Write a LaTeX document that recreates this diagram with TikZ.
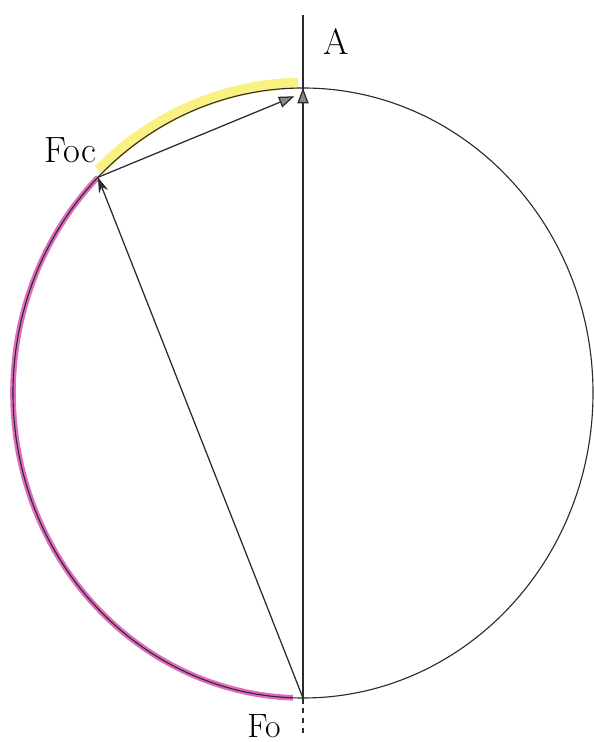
\documentclass[tikz,border=0pt]{standalone}
\definecolor{mInk}{HTML}{2B2B2B}
\definecolor{mYellow}{HTML}{F7EE5A}
\definecolor{mMagenta}{HTML}{D63AA8}
\definecolor{mTipGray}{HTML}{8A8A8A}
\usepackage{tikz}
\usetikzlibrary{positioning,arrows.meta,calc}

\begin{document}
\begin{tikzpicture}[line width=0.8pt, ink/.style={draw=mInk}, vec/.style={draw=mInk, line width=0.9pt}, lbl/.style={font=\fontsize{26}{28}\selectfont, text=black, inner sep=0pt}]
\useasboundingbox (0,0) rectangle (14.85,18.55);
\coordinate (O) at (7.575,8.725);
\coordinate (A) at (7.575,16.35);
\coordinate (Fo) at (7.575,1.1);
\coordinate (Foc) at ($(O)+(135:7.25 and 7.625)$);
\coordinate (top) at (7.575,18.175);
\coordinate (bot) at (7.575,0.15);
% coloured arcs under the circle
\draw[mYellow, opacity=0.75, line width=8pt] ($(O)+(91:7.35 and 7.74)$) arc[start angle=91, end angle=134, x radius=7.35, y radius=7.74];
\draw[mMagenta, opacity=0.75, line width=4pt] (Foc) arc[start angle=135, end angle=268, x radius=7.25, y radius=7.625];
\draw[ink] (O) ellipse[x radius=7.25, y radius=7.625];
% vertical axis
\draw[ink] (top)--(Fo);
\draw[ink, dashed, dash pattern=on 4pt off 3pt] (Fo)--(bot);
% vectors
\draw[vec, -{Triangle[length=11pt, width=8pt, fill=mTipGray]}] (Fo)--(A);
\draw[vec, -{Stealth[length=11pt, width=7pt]}] (Fo)--(Foc);
\draw[vec, -{Triangle[length=11pt, width=8pt, fill=mTipGray]}, shorten >=0.5pt] (Foc)--($(A)+(-0.2,-0.2)$);
% labels
\node[lbl] (labA) at (8.4,17.5) {A};
\node[lbl] (labFoc) at (1.75,14.8) {Foc};
\node[lbl, font=\fontsize{24}{26}\selectfont] (labFo) at (6.6,0.4) {Fo};
\end{tikzpicture}
\end{document}
